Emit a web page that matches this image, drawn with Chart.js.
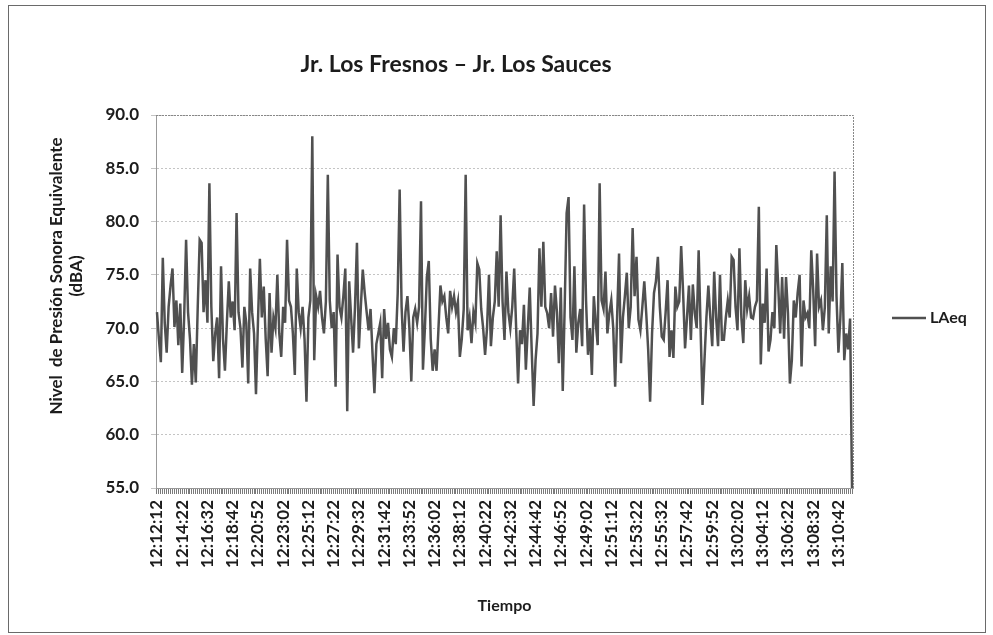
<!DOCTYPE html>
<html>
<head>
<meta charset="utf-8">
<script src="https://cdn.jsdelivr.net/npm/chart.js@4/dist/chart.umd.min.js"></script>
<style>
  html, body { margin: 0; padding: 0; background: #fff; }
  #wrap { width: 993px; height: 635px; position: relative; }
</style>
</head>
<body>
<div id="wrap"><canvas id="myChart"></canvas></div>
<script>
// LAeq readings, one every 10 s starting 12:12:12
const startTime = "12:12:12";
const stepSeconds = 10;

const laeq = [
  71.5, 69.0, 66.8, 76.6, 70.5, 67.7, 72.0, 74.0, 75.6, 70.1,
  72.6, 68.4, 72.3, 65.8, 71.0, 78.3, 71.5, 69.0, 64.7, 68.5,
  64.9, 72.0, 78.3, 78.0, 71.5, 74.5, 70.5, 83.6, 72.0, 66.9,
  69.5, 71.0, 65.3, 75.8, 69.0, 66.0, 70.5, 74.4, 71.0, 72.5,
  69.8, 80.8, 71.5, 70.0, 66.3, 72.0, 70.5, 64.8, 75.6, 71.5,
  69.5, 63.8, 70.5, 76.5, 71.0, 73.9, 69.0, 65.5, 73.3, 67.7,
  71.0, 70.0, 75.0, 69.5, 67.3, 72.0, 70.5, 78.3, 72.6, 72.0,
  69.5, 65.6, 75.6, 71.5, 70.0, 72.0, 69.0, 63.1, 71.0, 72.6,
  88.0, 67.0, 73.0, 72.0, 73.5, 71.0, 69.5, 72.5, 84.4, 72.6,
  70.0, 71.5, 64.5, 76.9, 72.0, 71.0, 73.0, 75.6, 62.2, 74.4,
  71.0, 67.7, 72.0, 78.0, 68.1, 72.0, 75.5, 73.3, 71.5, 69.8,
  71.8, 67.7, 63.9, 68.5, 69.5, 70.5, 65.3, 71.8, 69.0, 70.5,
  68.0, 67.3, 70.0, 68.5, 73.3, 83.0, 72.0, 67.8, 71.5, 73.0,
  70.0, 65.0, 71.0, 71.8, 70.5, 72.0, 81.9, 66.1, 70.0, 74.8,
  76.3, 69.0, 66.0, 68.0, 66.0, 70.0, 74.0, 72.5, 73.0, 71.0,
  69.5, 73.5, 72.0, 73.0, 71.5, 72.5, 67.3, 69.0, 71.8, 84.4,
  69.8, 71.0, 68.6, 71.5, 70.5, 76.1, 75.5, 71.8, 70.0, 67.5,
  70.0, 75.0, 68.3, 71.0, 72.5, 77.2, 72.0, 80.6, 72.5, 68.9,
  75.3, 71.5, 70.0, 72.0, 75.6, 70.0, 64.8, 69.8, 68.5, 72.2,
  66.1, 70.0, 73.8, 68.0, 62.7, 67.0, 69.5, 77.5, 72.0, 78.1,
  72.0, 71.4, 70.0, 73.3, 69.2, 74.0, 71.5, 66.7, 73.8, 64.1,
  72.0, 80.8, 82.3, 71.0, 68.9, 75.8, 67.7, 70.5, 71.8, 68.3,
  81.6, 72.6, 67.5, 70.0, 65.6, 73.0, 70.5, 68.4, 83.6, 72.6,
  71.8, 75.3, 69.5, 71.4, 72.6, 70.0, 64.5, 71.0, 77.0, 66.7,
  71.0, 73.0, 75.2, 70.0, 72.0, 79.4, 73.0, 76.7, 70.8, 69.8,
  72.0, 74.4, 71.4, 68.0, 63.1, 69.5, 73.3, 74.4, 76.7, 72.0,
  69.2, 68.9, 71.5, 74.5, 67.3, 69.8, 67.2, 73.9, 72.0, 72.5,
  77.7, 73.3, 68.1, 71.0, 74.0, 68.9, 74.1, 71.4, 70.0, 77.3,
  70.0, 62.8, 67.0, 71.0, 74.0, 71.0, 68.3, 75.3, 71.0, 68.3,
  75.0, 68.9, 68.9, 71.0, 72.6, 71.0, 76.7, 76.4, 72.0, 69.8,
  77.5, 71.0, 68.6, 74.5, 71.8, 73.0, 71.0, 70.9, 72.0, 72.6,
  81.4, 66.6, 72.3, 70.5, 75.6, 67.8, 68.9, 71.5, 70.0, 77.8,
  73.9, 69.5, 74.8, 69.0, 74.8, 71.4, 64.8, 67.0, 72.6, 71.0,
  73.3, 75.0, 66.4, 72.6, 71.0, 71.4, 70.0, 77.3, 73.6, 68.3,
  77.0, 72.0, 72.6, 69.8, 72.0, 80.6, 69.5, 75.8, 72.5, 84.7,
  73.0, 67.7, 71.0, 76.1, 67.0, 69.5, 68.0, 70.9, 55.0
];

// labels shown under the axis (every 13th reading)
const tickLabels = [
  "12:12:12", "12:14:22", "12:16:32", "12:18:42", "12:20:52", "12:23:02", "12:25:12",
  "12:27:22", "12:29:32", "12:31:42", "12:33:52", "12:36:02", "12:38:12", "12:40:22",
  "12:42:32", "12:44:42", "12:46:52", "12:49:02", "12:51:12", "12:53:22", "12:55:32",
  "12:57:42", "12:59:52", "13:02:02", "13:04:12", "13:06:22", "13:08:32", "13:10:42"
];
const labelEvery = 13;
const yTicks = [55, 60, 65, 70, 75, 80, 85, 90];
const yTitle = ["Nivel  de Presi\u00f3n Sonora Equivalente", "(dBA)"];

function pad(n) { return String(n).padStart(2, "0"); }
const p = startTime.split(":").map(Number);
const t0 = p[0] * 3600 + p[1] * 60 + p[2];
const categories = laeq.map((v, i) => {
  const s = t0 + i * stepSeconds;
  return pad(Math.floor(s / 3600)) + ":" + pad(Math.floor(s / 60) % 60) + ":" + pad(s % 60);
});

const font = "Lato, 'Open Sans', sans-serif";
const ink = "#1c1c1c";
const lineColor = "#505050";

// chart border, chart title, y title, dotted plot frame and the legend
const decor = {
  id: "decor",
  beforeDraw(chart) {
    const c = chart.ctx;
    c.save();
    c.strokeStyle = "#6a6a6a";
    c.lineWidth = 1;
    c.strokeRect(8.5, 5.5, 977, 627);
    c.fillStyle = ink;
    c.font = "bold 23px " + font;
    c.textAlign = "center";
    c.textBaseline = "middle";
    c.fillText("Jr. Los Fresnos \u2013 Jr. Los Sauces", 456, 65);
    // y axis title, rotated
    c.font = "bold 17px " + font;
    c.translate(57, 276);
    c.rotate(-Math.PI / 2);
    c.fillText(yTitle[0], 0, 0);
    c.fillText(yTitle[1], 0, 20);
    c.restore();
  },
  afterDraw(chart) {
    const a = chart.ctx, ar = chart.chartArea;
    a.save();
    a.strokeStyle = "#888";
    a.lineWidth = 1;
    a.setLineDash([2, 1]);
    a.beginPath();
    a.moveTo(ar.left, ar.top + 0.5);
    a.lineTo(ar.right + 0.5, ar.top + 0.5);
    a.lineTo(ar.right + 0.5, ar.bottom);
    a.stroke();
    a.setLineDash([]);
    // legend
    const ly = 318;
    a.strokeStyle = lineColor;
    a.lineWidth = 2.5;
    a.beginPath();
    a.moveTo(892, ly);
    a.lineTo(926, ly);
    a.stroke();
    a.fillStyle = ink;
    a.font = "bold 16px " + font;
    a.textAlign = "left";
    a.textBaseline = "middle";
    a.fillText(chart.data.datasets[0].label, 930, ly);
    a.restore();
  }
};

new Chart(document.getElementById("myChart"), {
  type: "line",
  data: {
    labels: categories,
    datasets: [{
      label: "LAeq",
      data: laeq,
      borderColor: lineColor,
      backgroundColor: lineColor,
      borderWidth: 2.5,
      pointRadius: 0,
      tension: 0,
      fill: false
    }]
  },
  options: {
    responsive: true,
    maintainAspectRatio: false,
    animation: false,
    layout: { autoPadding: false, padding: { left: 0, right: 140, top: 115, bottom: 0 } },
    plugins: {
      title: { display: false },
      legend: { display: false },
      tooltip: { enabled: false }
    },
    scales: {
      x: {
        offset: true,
        afterFit: (s) => { s.height = 147; },
        grid: {
          display: true,
          drawOnChartArea: false,
          drawTicks: true,
          tickLength: 6,
          color: "#7a7a7a",
          offset: false
        },
        border: { display: true, color: "#999" },
        ticks: {
          autoSkip: false,
          maxRotation: 90,
          minRotation: 90,
          padding: 6,
          color: ink,
          font: { family: font, size: 17, weight: "bold" },
          callback: (v, i) => (i % labelEvery === 0 ? tickLabels[i / labelEvery] : "")
        },
        title: {
          display: true,
          text: "Tiempo",
          color: ink,
          font: { family: font, size: 16, weight: "bold" },
          padding: { top: 0, bottom: 20 }
        }
      },
      y: {
        min: yTicks[0],
        max: yTicks[yTicks.length - 1],
        afterFit: (s) => { s.width = 156; },
        afterBuildTicks: (s) => { s.ticks = yTicks.map(v => ({ value: v })); },
        grid: { color: "#c4c4c4", tickLength: 5 },
        border: { display: true, color: "#999", dash: [2, 2] },
        ticks: {
          color: ink,
          padding: 12,
          font: { family: font, size: 17, weight: "bold" },
          callback: (v) => Number(v).toFixed(1)
        }
      }
    }
  },
  plugins: [decor]
});
</script>
</body>
</html>
